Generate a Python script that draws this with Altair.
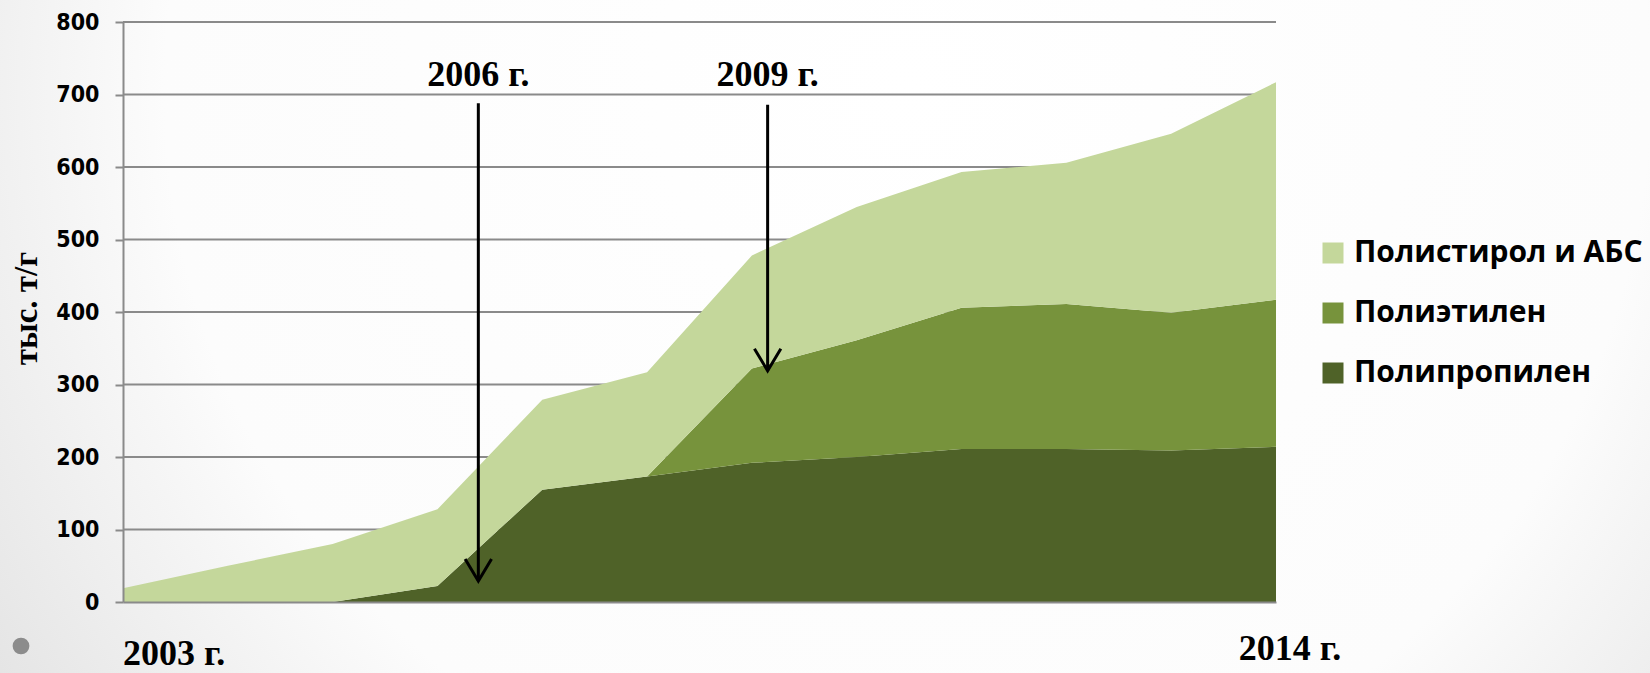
import altair as alt
import pandas as pd

# ---- data ----
years = list(range(2003, 2015))
pp = [0, 0, 0, 22, 155, 173, 192, 200, 211, 211, 209, 214]      # Полипропилен
pe = [0, 0, 0, 0, 0, 0, 130, 161, 195, 200, 190, 203]           # Полиэтилен
ps = [19, 50, 80, 106, 124, 144, 156, 184, 187, 195, 247, 300]  # Полистирол и АБС

series_names = ["Полистирол и АБС", "Полиэтилен", "Полипропилен"]
series_colors = ["#c4d79b", "#77933c", "#4f6228"]

y_ticks = [0, 100, 200, 300, 400, 500, 600, 700, 800]

arrow_x = [2006.39, 2009.15]
arrow_top = [688, 686]
arrow_tip = [29, 319]
arrow_labels = ["2006 г.", "2009 г."]
arrow_label_y = [712, 712]

end_labels = ["2003 г.", "2014 г."]
end_x = [2003, 2014]
end_y = [-87, -80]

# ---- tables ----
rows = []
for i, yr in enumerate(years):
    t0 = pp[i]
    t1 = pp[i] + pe[i]
    t2 = t1 + ps[i]
    rows.append({"year": yr, "series": "Полипропилен", "bottom": 0, "top": t0})
    rows.append({"year": yr, "series": "Полиэтилен", "bottom": t0, "top": t1})
    rows.append({"year": yr, "series": "Полистирол и АБС", "bottom": t1, "top": t2})
area_df = pd.DataFrame(rows)

arrows_df = pd.DataFrame({"x": arrow_x, "top": arrow_top, "tip": arrow_tip,
                          "label": arrow_labels, "ly": arrow_label_y})
grid_df = pd.DataFrame({"v": y_ticks[1:]})
end_df = pd.DataFrame({"x": end_x, "y": end_y, "label": end_labels})
one_df = pd.DataFrame({"a": [1]})

xs = alt.Scale(domain=[2003, 2014], nice=False, zero=False)
ys = alt.Scale(domain=[0, 800], nice=False)

serif = "Liberation Serif"

background = alt.Chart(one_df).mark_rect(
    fill={"gradient": "radial", "x1": 0.55, "y1": 0.35, "r1": 0,
          "x2": 0.55, "y2": 0.35, "r2": 0.75,
          "stops": [{"offset": 0, "color": "#ffffff"},
                    {"offset": 0.6, "color": "#fcfcfc"},
                    {"offset": 1, "color": "#dadada"}]}
).encode(x=alt.value(-123), x2=alt.value(1527), y=alt.value(-22), y2=alt.value(651))

grid = alt.Chart(grid_df).mark_rule(color="#8a8a8a", strokeWidth=2).encode(
    y=alt.Y("v:Q", scale=ys)
)

areas = alt.Chart(area_df).mark_area(opacity=1).encode(
    x=alt.X("year:Q", scale=xs,
            axis=alt.Axis(labels=False, ticks=False, grid=False, title=None,
                          domainColor="#8a8a8a", domainWidth=2, zindex=1)),
    y=alt.Y("top:Q", scale=ys, stack=None,
            axis=alt.Axis(values=y_ticks, grid=False, title="тыс. т/г",
                          labelFont="DejaVu Sans Condensed", labelFontWeight="bold",
                          labelFontSize=23, labelColor="#000000", labelPadding=16,
                          tickSize=8, tickColor="#8a8a8a", tickWidth=2,
                          domainColor="#8a8a8a", domainWidth=2,
                          titleFont=serif, titleFontWeight="bold", titleFontSize=33,
                          titleColor="#000000", titleAngle=-90, titleX=-87, titleY=286,
                          titleAlign="center", titleBaseline="alphabetic", zindex=1)),
    y2="bottom:Q",
    color=alt.Color("series:N",
                    scale=alt.Scale(domain=series_names, range=series_colors),
                    legend=alt.Legend(title=None, orient="none", legendX=1195, legendY=216,
                                      symbolType="square", symbolSize=441,
                                      symbolStrokeWidth=0, symbolOpacity=1,
                                      labelFont="Open Sans", labelFontWeight="bold",
                                      labelFontSize=30, labelColor="#000000",
                                      labelOffset=6, rowPadding=30, labelLimit=400)),
    detail="series:N",
)

shafts = alt.Chart(arrows_df).mark_rule(color="#000000", strokeWidth=3).encode(
    x=alt.X("x:Q", scale=xs), y=alt.Y("top:Q", scale=ys), y2="tip:Q"
)

heads = alt.Chart(arrows_df).mark_point(
    shape="M-1.2,-2L0,0L1.2,-2", filled=False, color="#000000",
    strokeWidth=3, size=484, opacity=1
).encode(x=alt.X("x:Q", scale=xs), y=alt.Y("tip:Q", scale=ys))

arrow_text = alt.Chart(arrows_df).mark_text(
    font=serif, fontWeight="bold", fontSize=36, color="#000000",
    align="center", baseline="alphabetic"
).encode(x=alt.X("x:Q", scale=xs), y=alt.Y("ly:Q", scale=ys), text="label:N")

end_text_left = alt.Chart(end_df.iloc[[0]]).mark_text(
    font=serif, fontWeight="bold", fontSize=36, color="#000000",
    align="left", baseline="alphabetic"
).encode(x=alt.X("x:Q", scale=xs), y=alt.Y("y:Q", scale=ys), text="label:N")

end_text_right = alt.Chart(end_df.iloc[[1]]).mark_text(
    font=serif, fontWeight="bold", fontSize=36, color="#000000",
    align="center", baseline="alphabetic", dx=14
).encode(x=alt.X("x:Q", scale=xs), y=alt.Y("y:Q", scale=ys), text="label:N")

bullet = alt.Chart(one_df).mark_circle(color="#8c8c8c", size=280, opacity=1).encode(
    x=alt.value(-102), y=alt.value(624)
)

chart = alt.layer(
    background, grid, areas, shafts, heads, arrow_text, end_text_left, end_text_right, bullet
).properties(
    width=1153, height=580,
    autosize=alt.AutoSizeParams(type="none"),
    padding={"left": 123, "top": 22, "right": 374, "bottom": 71},
).configure_view(stroke=None).configure(background="#ffffff")

chart.save("out.html", embed_options={"renderer": "svg", "actions": False})
